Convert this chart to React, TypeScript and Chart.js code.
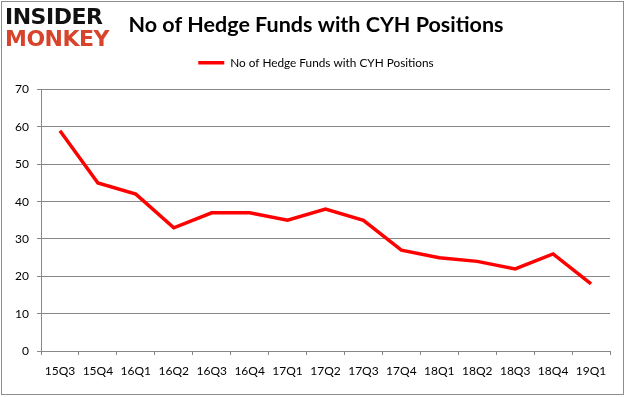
import React, { useEffect, useRef } from "react";
import { Chart, registerables } from "chart.js";

Chart.register(...registerables);

const quarters = ["15Q3", "15Q4", "16Q1", "16Q2", "16Q3", "16Q4", "17Q1", "17Q2", "17Q3", "17Q4", "18Q1", "18Q2", "18Q3", "18Q4", "19Q1"];
const hedgeFundCounts = [59, 45, 42, 33, 37, 37, 35, 38, 35, 27, 25, 24, 22, 26, 18];
const yMin = 0;
const yMax = 70;
const yStep = 10;
const seriesLabel = "No of Hedge Funds with CYH Positions";
const chartTitle = "No of Hedge Funds with CYH Positions";

const FONT = "Lato, 'Open Sans', sans-serif";

const outerBorder = {
  id: "outerBorder",
  afterDraw(chart: any) {
    const ctx = chart.ctx;
    ctx.save();
    ctx.strokeStyle = "#8c8c8c";
    ctx.lineWidth = 1;
    ctx.strokeRect(1.5, 1.5, chart.width - 4, chart.height - 4);
    ctx.restore();
  },
};

export default function App() {
  const ref = useRef<HTMLCanvasElement | null>(null);

  useEffect(() => {
    document.body.style.margin = "0";
    const canvas = ref.current;
    if (!canvas) return;
    const chart = new Chart(canvas, {
      type: "line",
      data: {
        labels: quarters,
        datasets: [
          {
            label: seriesLabel,
            data: hedgeFundCounts,
            borderColor: "#ff0000",
            backgroundColor: "#ff0000",
            borderWidth: 3.5,
            pointRadius: 0,
            pointHoverRadius: 0,
            tension: 0,
          },
        ],
      },
      plugins: [outerBorder],
      options: {
        animation: false,
        responsive: false,
        maintainAspectRatio: false,
        layout: { padding: { left: 6, right: 0, top: 0, bottom: 0 } },
        plugins: {
          title: {
            display: true,
            text: chartTitle,
            color: "#000",
            font: { family: FONT, size: 21.5, weight: "bold" },
            padding: { top: 12, bottom: 9 },
          },
          subtitle: {
            display: true,
            text: "",
            weight: 500,
            font: { size: 1, lineHeight: 1 },
            padding: { top: 5, bottom: 5 },
          },
          legend: {
            display: true,
            position: "top",
            labels: {
              usePointStyle: true,
              pointStyle: "line",
              pointStyleWidth: 26,
              color: "#000",
              font: { family: FONT, size: 11.8 },
              padding: 10,
            },
          },
          tooltip: { enabled: false },
        },
        scales: {
          x: {
            type: "category",
            offset: true,
            grid: {
              offset: true,
              drawOnChartArea: false,
              drawTicks: true,
              tickLength: 4,
              color: "#888",
            },
            border: { color: "#888" },
            ticks: {
              color: "#000",
              font: { family: FONT, size: 12 },
              padding: 9,
              maxRotation: 0,
              autoSkip: false,
            },
            afterFit: (s: any) => {
              s.height = 46;
            },
          },
          y: {
            min: yMin,
            max: yMax,
            ticks: {
              stepSize: yStep,
              color: "#000",
              font: { family: FONT, size: 12 },
              padding: 8,
            },
            grid: { color: "#888", tickLength: 4 },
            border: { color: "#888" },
            afterFit: (s: any) => {
              s.width = 35;
            },
          },
          rightSpace: {
            type: "linear",
            position: "right",
            display: true,
            grid: { display: false, drawTicks: false },
            ticks: { display: false },
            border: { display: false },
            afterFit: (s: any) => {
              s.width = 16;
            },
          },
        },
      },
    });
    return () => chart.destroy();
  }, []);

  return (
    <div style={{ position: "relative", width: 626, height: 397 }}>
      <canvas ref={ref} width={626} height={397} style={{ display: "block" }} />
      <div
        style={{
          position: "absolute",
          left: 5,
          top: 6,
          fontFamily: "'DejaVu Sans', sans-serif",
          fontWeight: 900,
          lineHeight: "22px",
          letterSpacing: "-0.5px",
        }}
      >
        <div style={{ color: "#111", fontSize: 22 }}>INSIDER</div>
        <div style={{ color: "#d8432c", fontSize: 22 }}>MONKEY</div>
      </div>
    </div>
  );
}
